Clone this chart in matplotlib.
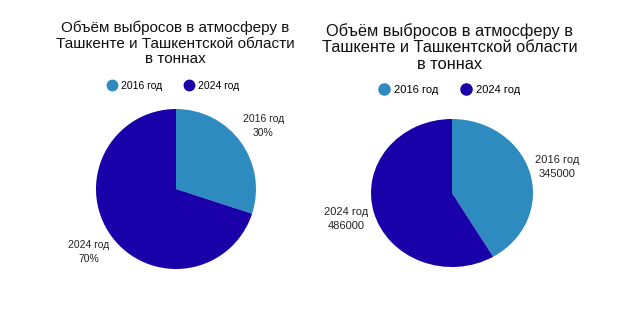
import matplotlib.pyplot as plt
from matplotlib.lines import Line2D

plt.rcParams['font.family'] = ['Liberation Sans', 'DejaVu Sans']

title = "Объём выбросов в атмосферу в\nТашкенте и Ташкентской области\nв тоннах"
years = ["2016 год", "2024 год"]
share_pct = [30, 70]
tonnes = [345000, 486000]
colors = ['#2E8BC0', '#1A00A8']

W, H = 640, 315
fig = plt.figure(figsize=(W / 100, H / 100), dpi=100)


def px_rect(x0, y0, x1, y1):
    # pixel box (top-left origin) -> figure fraction rect
    return [x0 / W, 1 - y1 / H, (x1 - x0) / W, (y1 - y0) / H]


def draw_pie(rect, values, texts, fs, title_xy, legend_xy, title_fs):
    ax = fig.add_axes(rect)
    labels = [f"{y}\n{t}" for y, t in zip(years, texts)]
    ax.pie(values, labels=labels, colors=colors, startangle=90,
           counterclock=False, labeldistance=1.35,
           wedgeprops=dict(linewidth=0),
           textprops=dict(ha='center', va='center', fontsize=fs,
                          color='#222222', linespacing=1.5))
    ax.set_aspect('auto')
    ax.set_xlim(-1, 1)
    ax.set_ylim(-1, 1)
    fig.text(title_xy[0] / W, 1 - title_xy[1] / H, title, ha='center',
             va='top', fontsize=title_fs, color='#111111', linespacing=1.12)
    handles = [Line2D([], [], ls='none', marker='o', markersize=fs,
                      markerfacecolor=c, markeredgecolor=c) for c in colors]
    fig.legend(handles, years, loc='center',
               bbox_to_anchor=(legend_xy[0] / W, 1 - legend_xy[1] / H),
               ncol=2, frameon=False, fontsize=fs, handletextpad=0.4,
               columnspacing=2.0, handlelength=1.0)
    return ax


draw_pie(px_rect(96, 109, 256, 269), share_pct,
         [f"{v}%" for v in share_pct], 7.5, (175, 21), (173, 86), 11)
draw_pie(px_rect(371, 119, 533, 267), tonnes,
         [str(v) for v in tonnes], 8, (450, 23), (449, 90), 11.8)

fig.savefig("out.png", dpi=100, facecolor='white')
